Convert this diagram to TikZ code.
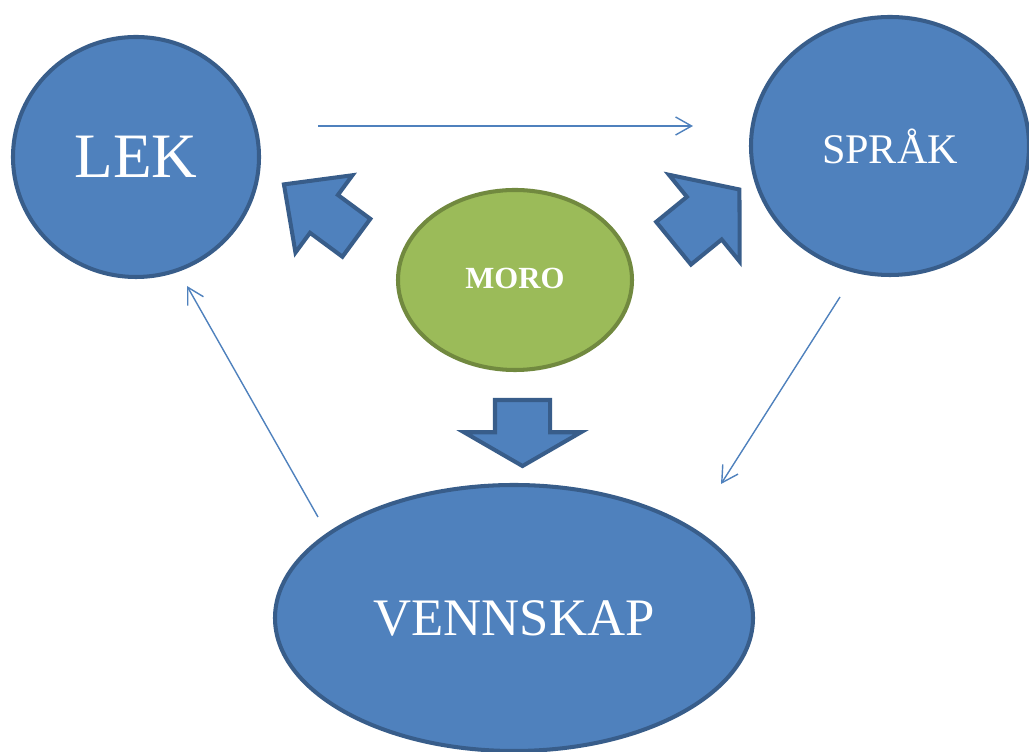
\documentclass[tikz,border=0pt]{standalone}
\usepackage{fontspec}
\setmainfont{Liberation Serif}
\usepackage{tikz}
\usetikzlibrary{positioning, arrows.meta, shapes.arrows, shapes.geometric}
\definecolor{boblaa}{HTML}{4F81BD}
\definecolor{kantblaa}{HTML}{385D8A}
\definecolor{mosegroenn}{HTML}{9BBB59}
\definecolor{kantgroenn}{HTML}{71893F}
\tikzset{
    boble/.style={
        ellipse,
        draw=kantblaa,
        fill=boblaa,
        line width=2.3pt,
        text=white,
        inner sep=0pt
    },
    blokkpil/.style={
        single arrow,
        draw=kantblaa,
        fill=boblaa,
        line width=2.3pt,
        inner xsep=0pt,
        anchor=tail
    },
    tynnpil/.style={
        draw=boblaa,
        line width=0.8pt,
        -{Straight Barb[length=0.32cm,width=0.36cm]}
    }
}

\begin{document}
\begin{tikzpicture}
	\useasboundingbox (0,0) rectangle (20.58,15.04);
	\node[boble, minimum width=4.92cm, minimum height=4.8cm] at (2.72,11.9) (lek) {\fontsize{36}{40}\selectfont LEK};
	\node[boble, minimum width=5.56cm, minimum height=5.16cm] at (17.8,12.12) (sprak) {\fontsize{24}{28}\selectfont SPRÅK};
	\node[boble, fill=mosegroenn, draw=kantgroenn, minimum width=4.68cm, minimum height=3.6cm] at (10.3,9.44) (moro) {\fontsize{17.5}{20}\selectfont\bfseries\raisebox{2pt}{MORO}};
	\node[boble, minimum width=9.56cm, minimum height=5.32cm] at (10.28,2.68) (vennskap) {\fontsize{30}{34}\selectfont VENNSKAP};
	% store piler fra moro
	\node[blokkpil, rotate=143.6, inner ysep=0.43cm, single arrow head extend=0.49cm, minimum height=1.8cm, single arrow tip angle=88] at (7.16,10.26) (pilvenstre) {};
	\node[blokkpil, rotate=39.2, inner ysep=0.51cm, single arrow head extend=0.57cm, minimum height=1.7cm, single arrow tip angle=102] at (13.44,10.15) (pilhoyre) {};
	\node[blokkpil, rotate=-90, inner ysep=0.51cm, single arrow head extend=0.62cm, minimum height=1.32cm, single arrow tip angle=120] at (10.45,7.08) (pilned) {};
	% tynne piler
	\coordinate (a1) at (6.36,12.52);
	\coordinate (a2) at (13.86,12.52);
	\coordinate (b1) at (16.8,9.1);
	\coordinate (b2) at (14.42,5.36);
	\coordinate (c1) at (6.36,4.7);
	\coordinate (c2) at (3.74,9.32);
	\draw[tynnpil] (a1) -- (a2);
	\draw[tynnpil] (b1) -- (b2);
	\draw[tynnpil] (c1) -- (c2);
\end{tikzpicture}
\end{document}
